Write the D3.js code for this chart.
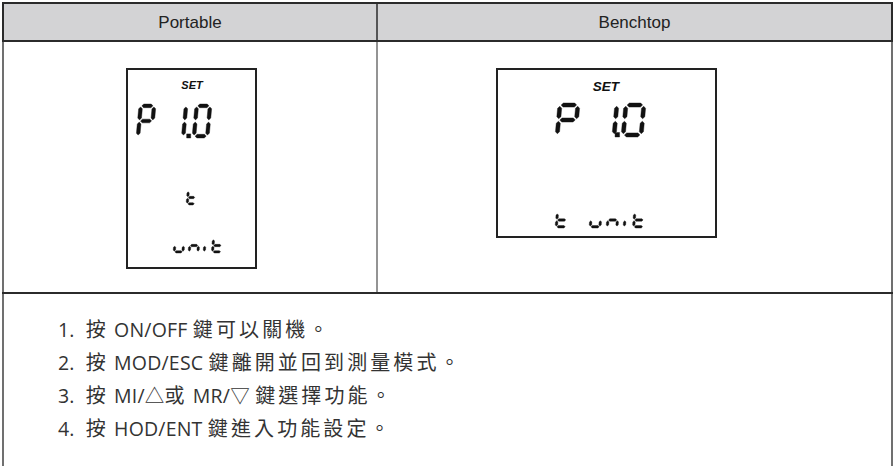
<!DOCTYPE html>
<html><head><meta charset="utf-8">
<script src="https://cdn.jsdelivr.net/npm/d3@7"></script>
<style>html,body{margin:0;padding:0;background:#fff;}svg{display:block;}</style>
</head><body>
<script>
// ---- data ----
const columns = ["Portable", "Benchtop"];
const setLabel = "SET";
const portableLines = ["P1.0", "t", "unit"];
const benchtopLines = ["P1.0", "t unit"];
const steps = [
  "按 ON/OFF 鍵可以關機。",
  "按 MOD/ESC 鍵離開並回到測量模式。",
  "按 MI/△或 MR/▽ 鍵選擇功能。",
  "按 HOD/ENT 鍵進入功能設定。"
];

// ---- layout ----
const W = 895, H = 466;
const svg = d3.select("body").append("svg").attr("width", W).attr("height", H);

const tblL = 3, tblR = 892, tblT = 3, headB = 41, rowB = 293, colX = 377;
const colLeft = {Portable: tblL, Benchtop: colX};
const colRight = {Portable: colX, Benchtop: tblR};

svg.append("rect").attr("x", tblL).attr("y", tblT).attr("width", tblR - tblL).attr("height", headB - tblT)
  .attr("fill", "#d3d3d5");

const gray = "#707070", dark = "#2b2b2b";
const line = (x1, y1, x2, y2, c, w) => svg.append("line").attr("x1", x1).attr("y1", y1).attr("x2", x2).attr("y2", y2)
  .attr("stroke", c).attr("stroke-width", w);
line(tblL, headB, tblL, H + 5, gray, 2);
line(tblR, headB, tblR, H + 5, gray, 2);
line(colX, headB, colX, rowB, gray, 1.5);
line(tblL - 1, rowB, tblR + 1, rowB, dark, 1.8);
line(tblL, tblT, tblL, headB, dark, 2);
line(tblR, tblT, tblR, headB, dark, 2);
line(colX, tblT, colX, headB, dark, 1.5);
line(tblL - 1, tblT, tblR + 1, tblT, dark, 2.2);
line(tblL - 1, headB, tblR + 1, headB, dark, 2);

svg.selectAll("text.head").data(columns).join("text").attr("class", "head")
  .attr("x", d => (colLeft[d] + colRight[d]) / 2).attr("y", 28)
  .attr("text-anchor", "middle").attr("font-family", "'Liberation Sans', Arial, sans-serif")
  .attr("font-size", 17).attr("fill", "#222").text(d => d);

// ---- seven segment ----
const segMap = {
  "P": "abefg", "1": "bc", "0": "abcdef", "t": "defg", "u": "cde", "n": "ceg", "i": "e", " ": ""
};
function segPoly(seg, w, h, t) {
  const g = t * 0.3, hw = t / 2, tp = hw;
  const xl = hw, xr = w - hw, yt = hw, ym = h / 2, yb = h - hw;
  const hor = (yc) => [[xl + g, yc], [xl + g + tp, yc - hw], [xr - g - tp, yc - hw], [xr - g, yc], [xr - g - tp, yc + hw], [xl + g + tp, yc + hw]];
  const ver = (xc, y0, y1) => [[xc, y0 + g], [xc + hw, y0 + g + tp], [xc + hw, y1 - g - tp], [xc, y1 - g], [xc - hw, y1 - g - tp], [xc - hw, y0 + g + tp]];
  switch (seg) {
    case "a": return hor(yt);
    case "g": return hor(ym);
    case "d": return hor(yb);
    case "f": return ver(xl, yt, ym);
    case "b": return ver(xr, yt, ym);
    case "e": return ver(xl, ym, yb);
    case "c": return ver(xr, ym, yb);
  }
}
function drawLCD(g, str, x0, y0, w, h, t, pitch, skew, oneShift) {
  let x = x0;
  const polys = [];
  str.split("").forEach(ch => {
    if (ch === ".") {
      const s = t * 1.1;
      const dx = x - s - t * 0.35;
      polys.push([[dx, y0 + h - s], [dx + s, y0 + h - s], [dx + s, y0 + h], [dx, y0 + h]]);
      return;
    }
    const off = ch === "1" ? (oneShift || 0) : 0;
    (segMap[ch] || "").split("").forEach(sg => {
      polys.push(segPoly(sg, w, h, t).map(([px, py]) => [x + off + px + skew * (h - py), y0 + py]));
    });
    x += (ch === "i") ? pitch * 0.55 : pitch;
  });
  g.selectAll(null).data(polys).join("polygon")
    .attr("points", d => d.map(p => p.join(",")).join(" "))
    .attr("fill", "#111").attr("stroke", "#111").attr("stroke-width", 0.4).attr("stroke-linejoin", "round");
}

// Portable LCD
const gp = svg.append("g");
gp.append("rect").attr("x", 127).attr("y", 69).attr("width", 129).attr("height", 199)
  .attr("fill", "#fff").attr("stroke", "#222").attr("stroke-width", 2);
gp.append("text").attr("x", 192).attr("y", 89).attr("text-anchor", "middle")
  .attr("font-family", "'Liberation Sans', Arial, sans-serif").attr("font-weight", "bold").attr("font-style", "italic")
  .attr("font-size", 11).attr("fill", "#111").text(setLabel);
drawLCD(gp, portableLines[0], 136, 104, 17, 34, 3.7, 28, 0.09, 4);
drawLCD(gp, portableLines[1], 186, 190, 10, 15, 2.3, 15, 0.08);
drawLCD(gp, portableLines[2], 173, 238, 11, 15, 2.3, 15, 0.08);

// Benchtop LCD
const gb = svg.append("g");
gb.append("rect").attr("x", 497).attr("y", 69).attr("width", 219).attr("height", 168)
  .attr("fill", "#fff").attr("stroke", "#222").attr("stroke-width", 2);
gb.append("text").attr("x", 606).attr("y", 91).attr("text-anchor", "middle")
  .attr("font-family", "'Liberation Sans', Arial, sans-serif").attr("font-weight", "bold").attr("font-style", "italic")
  .attr("font-size", 13.5).attr("fill", "#111").text(setLabel);
drawLCD(gb, benchtopLines[0], 555, 103, 22, 34, 4.1, 33, 0.09, 6);
drawLCD(gb, benchtopLines[1], 555, 212, 12, 16, 2.4, 17, 0.08);

// Steps: split each line into CJK / non-CJK runs
const cjkRe = /[\u3000-\u303f\u3400-\u9fff\uff00-\uffef]+|[^\u3000-\u303f\u3400-\u9fff\uff00-\uffef]+/g;
const isCjk = s => /[\u3000-\u303f\u3400-\u9fff\uff00-\uffef]/.test(s);
const yStep = d3.scalePoint().domain(d3.range(steps.length)).range([337, 436]);
const stepText = svg.selectAll("text.step").data(steps).join("text").attr("class", "step")
  .attr("x", 58).attr("y", (d, i) => yStep(i))
  .attr("font-family", "'Open Sans', 'Noto Sans CJK TC', sans-serif").attr("font-size", 19)
  .attr("fill", "#333");
stepText.selectAll("tspan").data((d, i) => [(i + 1) + "."].concat(d.match(cjkRe))).join("tspan")
  .attr("font-family", s => isCjk(s) ? "'Noto Sans CJK TC', sans-serif" : "'Open Sans', 'Noto Sans CJK TC', sans-serif")
  .attr("font-size", s => isCjk(s) ? 20 : 19.5)
  .attr("dx", (s, j) => j === 1 ? 11 : 0)
  .attr("letter-spacing", s => isCjk(s) ? 3.1 : 0.2)
  .text(s => s);
</script>
</body></html>
